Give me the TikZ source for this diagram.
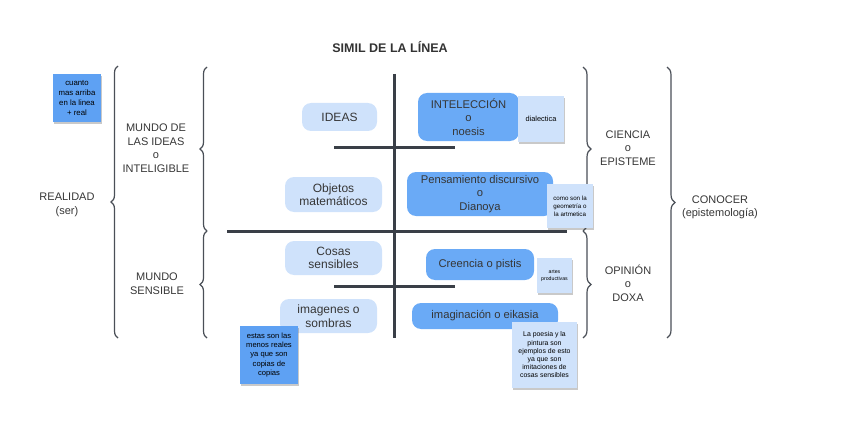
\documentclass[tikz,border=0pt]{standalone}
\usepackage{fontspec}
\setmainfont{Liberation Sans}
\usetikzlibrary{decorations.pathreplacing,shadows}
\definecolor{boxlight}{HTML}{CFE2FB}
\definecolor{boxdark}{HTML}{6AAAF6}
\definecolor{stickymid}{HTML}{5EA1F3}
\definecolor{stickylight}{HTML}{CFE2FB}
\definecolor{linecol}{HTML}{3A3F47}
\definecolor{bracecol}{HTML}{4A4F57}
\definecolor{txt}{HTML}{363636}
\begin{document}
\begin{tikzpicture}[x=1pt,y=-1pt,
  lightbox/.style={fill=boxlight,rounded corners=9pt,inner sep=0pt,text=txt,align=center,
    font=\fontsize{12}{13.5}\selectfont},
  darkbox/.style={fill=boxdark,rounded corners=9pt,inner sep=0pt,text=txt,align=center,
    font=\fontsize{11.2}{13.5}\selectfont},
  sticky/.style={inner sep=0pt,align=center,text=black,
    drop shadow={shadow xshift=0.6pt,shadow yshift=-1.6pt,opacity=0.3,fill=black!70}},
  label/.style={text=txt,align=center,font=\fontsize{11}{13.5}\selectfont},
  thickline/.style={draw=linecol,line width=3pt},
  bracestyle/.style={draw=bracecol,line width=1.2pt,decorate,decoration={brace,amplitude=7pt}}
]
\useasboundingbox (0,0) rectangle (848,425);

% title
\node[text=black!80,font=\bfseries\fontsize{12.5}{14}\selectfont] (title) at (390,47) {SIMIL DE LA LÍNEA};

% lines
\coordinate (vtop) at (394,74);
\coordinate (vbot) at (394,338);
\coordinate (h1l) at (334,147);
\coordinate (h1r) at (455,147);
\coordinate (h2l) at (227,231);
\coordinate (h2r) at (567,231);
\coordinate (h3l) at (334,286);
\coordinate (h3r) at (455,286);
\draw[thickline] (vtop) -- (vbot);
\draw[thickline] (h1l) -- (h1r);
\draw[thickline] (h2l) -- (h2r);
\draw[thickline] (h3l) -- (h3r);

% braces
\coordinate (b1t) at (118,66);
\coordinate (b1b) at (118,338);
\draw[bracestyle] (b1b) -- (b1t);
\coordinate (b2t) at (207,67);
\coordinate (b2m) at (207,231);
\coordinate (b2b) at (207,338);
\draw[bracestyle] (b2m) -- (b2t);
\draw[bracestyle] (b2b) -- (b2m);
\coordinate (b3t) at (583,67);
\coordinate (b3m) at (583,231);
\coordinate (b3b) at (583,338);
\draw[bracestyle,decoration={brace,amplitude=8pt}] (b3t) -- (b3m);
\draw[bracestyle,decoration={brace,amplitude=8pt}] (b3m) -- (b3b);
\coordinate (b4t) at (667,67);
\coordinate (b4b) at (667,338);
\draw[bracestyle,decoration={brace,amplitude=8pt}] (b4t) -- (b4b);

% labels
\node[label] (realidad) at (67,205) {REALIDAD\\(ser)};
\node[label] (ideasw) at (156,148) {MUNDO DE\\LAS IDEAS\\o\\INTELIGIBLE};
\node[label] (sensw) at (157,283.5) {MUNDO\\SENSIBLE};
\node[label] (ciencia) at (628,148) {CIENCIA\\o\\EPISTEME};
\node[label] (opinion) at (628,283) {OPINIÓN\\o\\DOXA};
\node[label] (conocer) at (720,207.5) {CONOCER\\(epistemología)};

% boxes
\node[lightbox,minimum width=75pt,minimum height=28pt] (ideas) at (339.5,117) {IDEAS};
\node[darkbox,minimum width=101pt,minimum height=48pt] (intel) at (468.5,117) {INTELECCIÓN\\o\\noesis};
\node[lightbox,minimum width=97pt,minimum height=35pt] (objetos) at (333.5,194.5) {Objetos\\matemáticos};
\node[darkbox,minimum width=146pt,minimum height=44pt] (pens) at (480,194) {Pensamiento discursivo\\o\\Dianoya};
\node[lightbox,minimum width=97pt,minimum height=34pt] (cosas) at (333.5,258) {Cosas\\sensibles};
\node[darkbox,minimum width=108pt,minimum height=31pt] (creencia) at (480,264.5) {Creencia o pistis};
\node[lightbox,minimum width=97pt,minimum height=34pt] (imagenes) at (328.5,316) {imagenes o\\sombras};
\node[darkbox,minimum width=146pt,minimum height=26pt] (imaginacion) at (485,316) {imaginación o eikasia};

% stickies
\node[sticky,fill=stickymid,minimum width=48pt,minimum height=48pt,font=\fontsize{7.8}{10}\selectfont] (cuanto) at (77,98) {cuanto\\mas arriba\\en la linea\\+ real};
\node[sticky,fill=stickylight,minimum width=46pt,minimum height=46pt,font=\fontsize{7.4}{9}\selectfont] (dialectica) at (541,119) {dialectica};
\node[sticky,fill=stickylight,minimum width=46pt,minimum height=44pt,font=\fontsize{6.2}{8}\selectfont] (como) at (570,206) {como son la\\geometría o\\la artmetica};
\node[sticky,fill=stickylight,minimum width=35pt,minimum height=35pt,font=\fontsize{5.2}{7}\selectfont] (artes) at (554.5,275.5) {artes\\productivas};
\node[sticky,fill=stickymid,minimum width=58pt,minimum height=58pt,font=\fontsize{7.6}{9.3}\selectfont] (estas) at (269,355) {estas son las\\menos reales\\ya que son\\copias de\\copias};
\node[sticky,fill=stickylight,minimum width=65pt,minimum height=66pt,font=\fontsize{6.9}{8.2}\selectfont] (poesia) at (544.5,355) {La poesia y la\\pintura son\\ejemplos de esto\\ya que son\\imitaciones de\\cosas sensibles};
\end{tikzpicture}
\end{document}
